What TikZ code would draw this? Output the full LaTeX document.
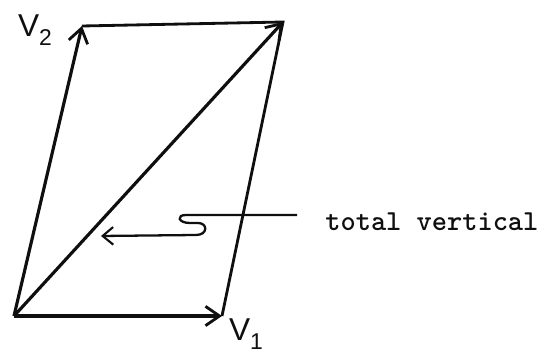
\documentclass[tikz,border=0pt]{standalone}
\usepackage{fontspec}
\usepackage{xcolor}
\usepackage{tikz}
\usetikzlibrary{arrows.meta, positioning, calc}
\newfontfamily\handfont{Liberation Sans}
\newcommand{\vsub}[1]{\raisebox{-5pt}{\fontsize{13}{13}\selectfont #1}}
\definecolor{Ink}{RGB}{15, 15, 15}

\begin{document}
\begin{tikzpicture}[
    x=0.02cm, y=-0.02cm,
    vec/.style={-{Straight Barb[length=8pt, width=11pt, line width=1.6pt]}, line width=1.8pt, color=Ink},
    side/.style={line width=1.6pt, color=Ink},
    lead/.style={-{Straight Barb[length=6pt, width=10pt, line width=1.2pt]}, line width=1.3pt, color=Ink},
    vlabel/.style={font=\handfont\fontsize{18}{18}\selectfont, text=Ink, inner sep=0pt},
    note/.style={font=\ttfamily\bfseries\fontsize{16.5}{18}\selectfont, text=Ink, anchor=west, inner sep=0pt}
  ]
    \useasboundingbox (0,0) rectangle (545,354);

    \coordinate (O)  at (14,316);
    \coordinate (v1) at (222,316);
    \coordinate (v2) at (82,26);
    \coordinate (R)  at (283,22);

    \draw[side] (v2) -- (R) -- (v1);
    \draw[vec] (O) -- (v1);
    \draw[vec] (O) -- (v2);
    \draw[vec] (O) -- (R);

    \node[vlabel] (v2lab) at (35,30)  {V\vsub{2}};
    \node[vlabel] (v1lab) at (246,334) {V\vsub{1}};

    \node[note] (tv) at (325,222) {total vertical};
    \coordinate (start) at (297,215);
    \coordinate (tip)   at (101,236);
    \draw[lead] (start) -- (186,215)
      .. controls (176,215) and (178,223) .. (190,223) -- (198,223)
      .. controls (208,223) and (208,235) .. (196,235) -- (tip);
  \end{tikzpicture}
\end{document}
